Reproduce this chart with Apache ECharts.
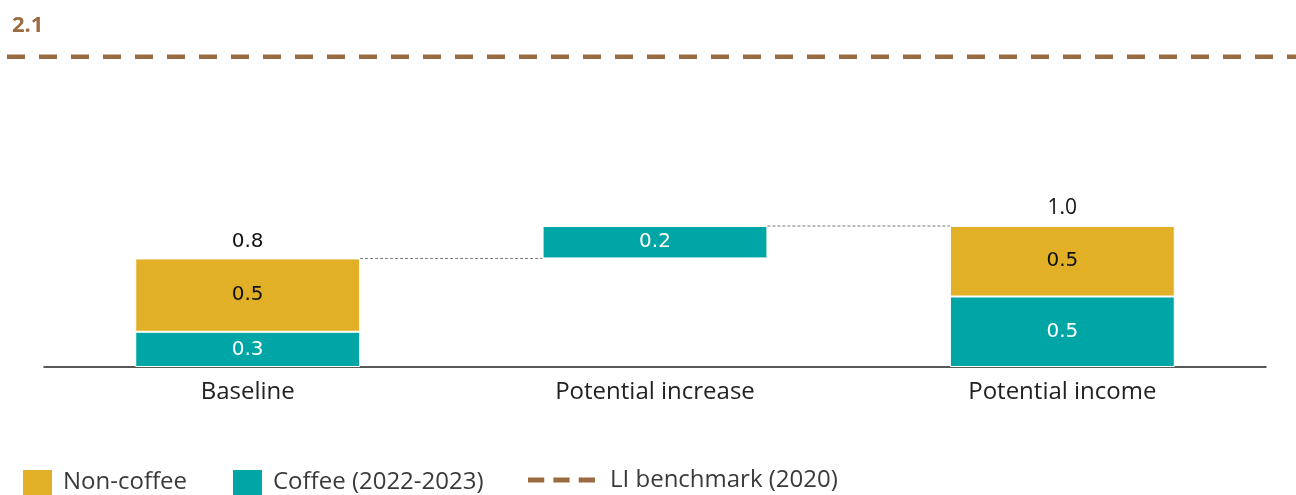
<!DOCTYPE html>
<html>
<head>
<meta charset="utf-8">
<script src="https://cdn.jsdelivr.net/npm/echarts@6/dist/echarts.min.js"></script>
<style>
    html, body { margin: 0; padding: 0; background: #fff; }
    #chart { width: 1296px; height: 495px; }
</style>
</head>
<body>
<div id="chart"></div>
<script>
// data
const categories = ['Baseline', 'Potential increase', 'Potential income'];
const coffee = [0.25, 0.23, 0.5];
const nonCoffee = [0.52, null, 0.5];
const benchmark = 2.2;
const benchmarkLabel = '2.1';

const GOLD = '#E2B026';
const TEAL = '#00A6A6';
const BROWN = '#9A6B40';
const barFrac = 0.552;

function fmt(v) {
    return (Math.round(v * 10) / 10).toFixed(1);
}

const baselineTotal = coffee[0] + nonCoffee[0];
const incomeTotal = coffee[2] + nonCoffee[2];
// invisible base so the increase floats on top of the baseline
const offset = ['-', baselineTotal, '-'];
const totals = [0, '-', 0];
const totalText = [fmt(baselineTotal), '', fmt(incomeTotal)];
const totalFont = ['DejaVu Sans', '', 'Open Sans'];
const totalSize = [20, 0, 21];

const half = barFrac / 2;
const connector1 = [[0.5 + half, baselineTotal], [1.5 - half, baselineTotal]];
const connector2 = [[1.5 + half, baselineTotal + coffee[1]], [2.5 - half, baselineTotal + coffee[1]]];

const chart = echarts.init(document.getElementById('chart'));

const valueLabel = function (color) {
    return {
        show: true,
        position: 'inside',
        color: color,
        fontFamily: 'DejaVu Sans',
        fontSize: 20,
        formatter: function (p) { return fmt(p.value); }
    };
};

const legendText = { color: '#3a3a3a', fontFamily: 'Open Sans', fontSize: 24 };
const squareIcon = 'path://M0,0H31V27H0Z';

const options = {
    animation: false,
    title: {
        text: benchmarkLabel,
        left: 7,
        top: 10,
        textStyle: { color: BROWN, fontFamily: 'Open Sans', fontWeight: 'bold', fontSize: 22 }
    },
    grid: [
        { left: 44, right: 30, top: 14.5, bottom: 128 },
        { left: 7, right: 0, top: 14.5, bottom: 128 }
    ],
    xAxis: [
        {
            type: 'category', gridIndex: 0, data: categories,
            axisTick: { show: false },
            axisLine: { lineStyle: { color: '#222', width: 1.5 } },
            axisLabel: { color: '#222', fontFamily: 'Open Sans', fontSize: 24, margin: 13 }
        },
        { type: 'value', gridIndex: 0, min: 0, max: 3, show: false },
        { type: 'value', gridIndex: 1, min: 0, max: 1, show: false }
    ],
    yAxis: [
        { type: 'value', gridIndex: 0, min: 0, max: 2.5, show: false, splitLine: { show: false } },
        { type: 'value', gridIndex: 1, min: 0, max: 2.5, show: false, splitLine: { show: false } }
    ],
    legend: [
        {
            left: 21, top: 468, padding: 0,
            itemWidth: 31, itemHeight: 27, itemGap: 44,
            data: [
                { name: 'Non-coffee', icon: squareIcon },
                { name: 'Coffee (2022-2023)', icon: squareIcon }
            ],
            textStyle: Object.assign({ padding: [0, 0, 0, 5] }, legendText)
        },
        {
            left: 528, top: 468, padding: 0,
            itemWidth: 67, itemHeight: 27,
            data: [{
                name: 'LI benchmark (2020)',
                icon: 'path://M0,0H16V5H0Z M25,0H41V5H25Z M50,0H66V5H50Z',
                itemStyle: { color: BROWN }
            }],
            textStyle: Object.assign({ padding: [0, 0, 0, 10] }, legendText)
        }
    ],
    series: [
        {
            name: 'offset', type: 'bar', stack: 'a', barWidth: (barFrac * 100) + '%',
            itemStyle: { color: 'transparent' },
            data: offset
        },
        {
            name: 'Coffee (2022-2023)', type: 'bar', stack: 'a',
            itemStyle: { color: TEAL, borderColor: '#fff', borderWidth: 1 },
            label: valueLabel('#fff'),
            data: coffee
        },
        {
            name: 'Non-coffee', type: 'bar', stack: 'a',
            itemStyle: { color: GOLD, borderColor: '#fff', borderWidth: 1 },
            label: valueLabel('#111'),
            data: nonCoffee.map(function (v) { return v === null ? '-' : v; })
        },
        {
            name: 'total', type: 'bar', stack: 'a',
            itemStyle: { color: 'transparent' },
            data: totals.map(function (v, i) {
                return {
                    value: v,
                    label: {
                        show: v !== '-',
                        position: 'top',
                        distance: 7,
                        color: '#111',
                        fontFamily: totalFont[i],
                        fontSize: totalSize[i],
                        formatter: totalText[i]
                    }
                };
            })
        },
        {
            name: 'connector1', type: 'line', xAxisIndex: 1, yAxisIndex: 0,
            symbol: 'none', silent: true,
            lineStyle: { color: '#777', width: 1, type: [3, 2] },
            data: connector1
        },
        {
            name: 'connector2', type: 'line', xAxisIndex: 1, yAxisIndex: 0,
            symbol: 'none', silent: true,
            lineStyle: { color: '#777', width: 1, type: [3, 2] },
            data: connector2
        },
        {
            name: 'LI benchmark (2020)', type: 'line', xAxisIndex: 2, yAxisIndex: 1,
            symbol: 'none', silent: true,
            itemStyle: { color: BROWN },
            lineStyle: { color: BROWN, width: 4.5, type: [18, 14] },
            data: [[0, benchmark], [1, benchmark]]
        }
    ]
};

chart.setOption(options);
</script>
</body>
</html>
